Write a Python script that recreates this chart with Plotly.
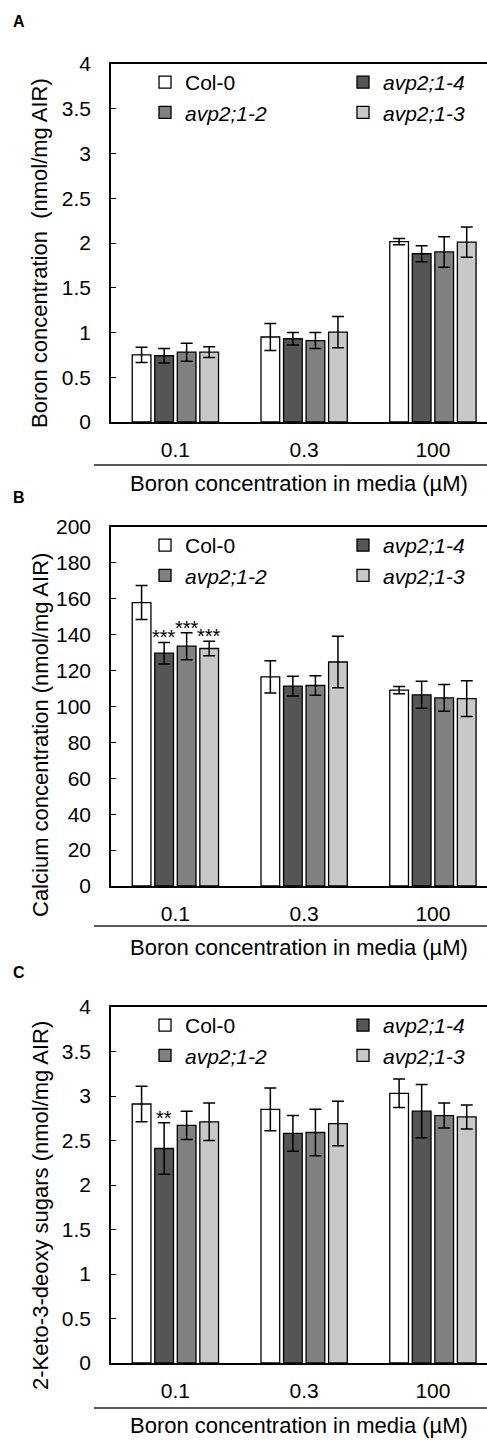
import plotly.graph_objects as go

# ---------------- data ----------------
categories = ["0.1", "0.3", "100"]
genotypes = ["Col-0", "<i>avp2;1-4</i>", "<i>avp2;1-2</i>", "<i>avp2;1-3</i>"]
bar_colors = ["#ffffff", "#555555", "#808080", "#c8c8c8"]

# Panel A: boron concentration (nmol/mg AIR), order: Col-0, 1-4, 1-2, 1-3
boron_col0 = [0.75, 0.95, 2.015]
boron_col0_err = [0.085, 0.15, 0.035]
boron_14 = [0.74, 0.93, 1.88]
boron_14_err = [0.08, 0.07, 0.09]
boron_12 = [0.78, 0.91, 1.90]
boron_12_err = [0.10, 0.09, 0.17]
boron_13 = [0.78, 1.005, 2.01]
boron_13_err = [0.06, 0.175, 0.17]

# Panel B: calcium concentration (nmol/mg AIR)
calcium_col0 = [157.9, 116.5, 109.1]
calcium_col0_err = [9.5, 9.0, 2.0]
calcium_14 = [129.7, 111.3, 106.5]
calcium_14_err = [6.0, 5.5, 7.5]
calcium_12 = [133.6, 111.7, 104.8]
calcium_12_err = [7.5, 5.5, 7.5]
calcium_13 = [132.3, 124.8, 104.4]
calcium_13_err = [4.0, 14.3, 10.0]

# Panel C: 2-keto-3-deoxy sugars (nmol/mg AIR)
kdo_col0 = [2.91, 2.85, 3.03]
kdo_col0_err = [0.20, 0.24, 0.16]
kdo_14 = [2.41, 2.58, 2.83]
kdo_14_err = [0.29, 0.20, 0.30]
kdo_12 = [2.67, 2.59, 2.78]
kdo_12_err = [0.16, 0.26, 0.14]
kdo_13 = [2.71, 2.69, 2.765]
kdo_13_err = [0.21, 0.25, 0.135]

# significance marks: (category index, genotype index, label)
sig_calcium = [(0, 1, "***"), (0, 2, "***"), (0, 3, "***")]
sig_kdo = [(0, 1, "**")]

y_titles = ["Boron concentration  (nmol/mg AIR)",
            "Calcium concentration (nmol/mg AIR)",
            "2-Keto-3-deoxy sugars (nmol/mg AIR)"]
x_title = "Boron concentration in media (\u00b5M)"
panel_letters = ["A", "B", "C"]
y_ranges = [[0, 4], [0, 200], [0, 4]]
y_dticks = [0.5, 20, 0.5]

panels = [
    ([boron_col0, boron_14, boron_12, boron_13],
     [boron_col0_err, boron_14_err, boron_12_err, boron_13_err], []),
    ([calcium_col0, calcium_14, calcium_12, calcium_13],
     [calcium_col0_err, calcium_14_err, calcium_12_err, calcium_13_err], sig_calcium),
    ([kdo_col0, kdo_14, kdo_12, kdo_13],
     [kdo_col0_err, kdo_14_err, kdo_12_err, kdo_13_err], sig_kdo),
]

# ---------------- layout geometry (pixels) ----------------
W, H = 487, 1440
PLOT_LEFT = 111
plot_px = [(64, 422), (527, 886), (1007, 1363)]      # (top, bottom)
title_center_px = [253, 735, 1206]
xtitle_center_px = [483, 947, 1425]
xtitle_line_px = [465, 926, 1408]
letter_px = [22, 497, 972]
FONT = "Liberation Sans, Arial, sans-serif"
BARGAP = 0.3
NGEN = 4
slot = (1 - BARGAP) / NGEN


def py(p):
    return 1 - p / H


fig = go.Figure()
annotations = []
shapes = []
layout = {}

for k, (means, errs, sigs) in enumerate(panels):
    sfx = "" if k == 0 else str(k + 1)
    xref, yref = "x" + sfx, "y" + sfx
    leg_left = "legend" if k == 0 else "legend" + str(2 * k + 1)
    leg_right = "legend" + str(2 * k + 2)
    for g in range(NGEN):
        fig.add_trace(go.Bar(
            x=categories, y=means[g], name=genotypes[g],
            marker=dict(color=bar_colors[g], line=dict(color="black", width=1.3)),
            error_y=dict(type="data", array=errs[g], color="black",
                         thickness=1.5, width=6),
            xaxis=xref, yaxis=yref,
            legend=leg_left if g in (0, 2) else leg_right,
            showlegend=True,
        ))
    top, bot = plot_px[k]
    layout["xaxis" + sfx] = dict(
        domain=[PLOT_LEFT / W, 1], anchor=yref, type="category", automargin=False,
        range=[-0.5, 2.42], showline=True, linecolor="black", linewidth=1.5,
        mirror=True, ticks="", showgrid=False, zeroline=False,
        tickfont=dict(size=21, color="black", family=FONT),
        ticklabelstandoff=8,
    )
    layout["yaxis" + sfx] = dict(
        domain=[py(bot), py(top)], anchor=xref, range=y_ranges[k], automargin=False,
        dtick=y_dticks[k], tick0=0, showline=True, linecolor="black",
        linewidth=1.5, ticks="inside", ticklen=5, tickwidth=1.3,
        tickcolor="black", showgrid=False, zeroline=False,
        tickfont=dict(size=21, color="black", family=FONT),
        ticklabelstandoff=14,
    )
    layout[leg_left] = dict(x=145 / W, y=py(top - 2), xanchor="left", yanchor="top",
                            bgcolor="rgba(0,0,0,0)", font=dict(size=21, color="black", family=FONT),
                            tracegroupgap=0, itemclick=False)
    layout[leg_right] = dict(x=343 / W, y=py(top - 2), xanchor="left", yanchor="top",
                             bgcolor="rgba(0,0,0,0)", font=dict(size=21, color="black", family=FONT),
                             tracegroupgap=0, itemclick=False)
    annotations.append(dict(
        text=y_titles[k], textangle=-90, xref="paper", yref="paper",
        x=40 / W, y=py(title_center_px[k]), xanchor="center", yanchor="middle",
        showarrow=False, font=dict(size=22, color="black", family=FONT)))
    annotations.append(dict(
        text=x_title, xref="paper", yref="paper",
        x=(PLOT_LEFT + W) / 2 / W, y=py(xtitle_center_px[k]), xanchor="center",
        yanchor="middle", showarrow=False,
        font=dict(size=22, color="black", family=FONT)))
    annotations.append(dict(
        text="<b>" + panel_letters[k] + "</b>", xref="paper", yref="paper",
        x=19 / W, y=py(letter_px[k]), xanchor="center", yanchor="middle",
        showarrow=False, font=dict(size=16, color="black", family=FONT)))
    shapes.append(dict(type="line", xref="paper", yref="paper",
                       x0=94 / W, x1=1, y0=py(xtitle_line_px[k]), y1=py(xtitle_line_px[k]),
                       line=dict(color="#222222", width=1.3)))
    for (ci, gi, lab) in sigs:
        annotations.append(dict(
            text=lab, xref=xref, yref=yref,
            x=ci + (gi - (NGEN - 1) / 2) * slot,
            y=means[gi][ci] + errs[gi][ci], xanchor="center", yanchor="bottom",
            yshift=-8, showarrow=False,
            font=dict(size=20, color="black", family=FONT)))

fig.update_layout(
    template="none",
    width=W, height=H, margin=dict(l=0, r=0, t=0, b=0, autoexpand=False),
    paper_bgcolor="white", plot_bgcolor="white",
    barmode="group", bargap=BARGAP, bargroupgap=0.17,
    annotations=annotations, shapes=shapes,
    font=dict(family=FONT, color="black"),
    **layout,
)

fig.write_html("out.html", config={"displayModeBar": False},
               post_script="document.body.style.margin='0px';document.body.style.overflow='hidden';")
